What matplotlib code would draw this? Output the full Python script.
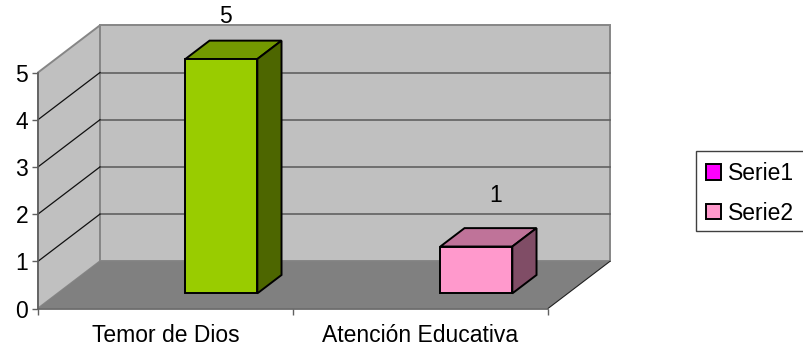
import matplotlib
matplotlib.use("Agg")
import matplotlib.pyplot as plt
from matplotlib.patches import Patch, Rectangle

categories = ["Temor de Dios", "Atención Educativa"]
serie1 = [0, 0]
serie2 = [5, 1]
y_ticks = [0, 1, 2, 3, 4, 5]

W, H = 804, 349
# front plane of the fake 3d box, in pixels
LEFT, RIGHT, BOTTOM, TOP = 38, 548, 308.5, 72.5
DEPTH_X = 62 / 255  # depth in category units
DEPTH_Y = 1.0       # depth in value units

plt.rcParams["font.family"] = ["Liberation Sans", "DejaVu Sans"]
FS = 16.5

fig = plt.figure(figsize=(W / 100, H / 100), dpi=100)
ax = fig.add_axes([LEFT / W, 1 - BOTTOM / H, (RIGHT - LEFT) / W, (BOTTOM - TOP) / H])
ax.set_xlim(0, len(categories))
ax.set_ylim(0, max(y_ticks))
ax.patch.set_visible(False)
for s in ["top", "right"]:
    ax.spines[s].set_visible(False)
for s in ["left", "bottom"]:
    ax.spines[s].set_color("#606060")
    ax.spines[s].set_linewidth(1.2)


def pt(x, y, d):
    return x + d * DEPTH_X, y + d * DEPTH_Y


def face(points, color, edge="none", lw=0, z=1):
    xs = [p[0] for p in points]
    ys = [p[1] for p in points]
    ax.fill(xs, ys, facecolor=color, edgecolor=edge, linewidth=lw, zorder=z,
            clip_on=False, joinstyle="miter")


nx = len(categories)
ytop = max(y_ticks)

# walls and floor
face([pt(0, 0, 0), pt(0, 0, 1), pt(0, ytop, 1), pt(0, ytop, 0)], "#c0c0c0", "#868686", 1.4)
face([pt(0, 0, 1), pt(nx, 0, 1), pt(nx, ytop, 1), pt(0, ytop, 1)], "#c0c0c0", "#868686", 1.4)
face([pt(0, 0, 0), pt(nx, 0, 0), pt(nx, 0, 1), pt(0, 0, 1)], "#808080", "none", 0, z=1.5)
ax.plot(*zip(pt(nx, 0, 0), pt(nx, 0, 1)), color="#202020", lw=0.8, zorder=1.6, clip_on=False)

# gridlines
for v in y_ticks[1:-1]:
    ax.plot(*zip(pt(0, v, 1), pt(nx, v, 1)), color="#606060", lw=1.2, zorder=2, clip_on=False)
    ax.plot(*zip(pt(0, v, 0), pt(0, v, 1)), color="#101010", lw=0.9, zorder=2, clip_on=False)

# bars, both sit in the second slot of their category because serie1 is empty
BAR_W = 72 / 255
D0, D1 = 0.32, 0.71
SCALE = 0.993
front_colors = ["#99cc00", "#ff99cc"]
top_colors = ["#739900", "#bf7399"]
side_colors = ["#4d6600", "#804d66"]
label_off = [(4, 43), (19, 51)]

for i, v in enumerate(serie2):
    x0 = i + 0.5
    x1 = x0 + BAR_W
    h = v * SCALE
    face([pt(x0, 0, D0), pt(x1, 0, D0), pt(x1, h, D0), pt(x0, h, D0)],
         front_colors[i], "black", 1.4, z=4)
    face([pt(x0, h, D0), pt(x1, h, D0), pt(x1, h, D1), pt(x0, h, D1)],
         top_colors[i], "black", 1.4, z=3)
    face([pt(x1, 0, D0), pt(x1, 0, D1), pt(x1, h, D1), pt(x1, h, D0)],
         side_colors[i], "black", 1.4, z=3)
    ax.annotate(str(v), xy=pt((x0 + x1) / 2, h, D0), xycoords="data",
                xytext=(label_off[i][0] * 0.72, label_off[i][1] * 0.72),
                textcoords="offset points", ha="center", va="center",
                fontsize=FS, color="black", zorder=6, annotation_clip=False)

# axes ticks and labels
ax.set_yticks(y_ticks)
ax.set_xticks(range(nx + 1))
ax.set_xticklabels([])
ax.tick_params(axis="both", length=4, width=1, color="#606060", labelsize=FS, labelcolor="black")
ax.tick_params(axis="y", pad=3)
for i, c in enumerate(categories):
    ax.annotate(c, xy=(i + 0.5, 0), xycoords="data", xytext=(0, -19.5),
                textcoords="offset points", ha="center", va="center", fontsize=FS,
                color="black", annotation_clip=False)

# legend, the box runs off the right edge of the picture
fig.add_artist(Rectangle((696 / W, 1 - 231 / H), 120 / W, 80 / H, transform=fig.transFigure,
                         facecolor="white", edgecolor="#404040", linewidth=1.0))
handles = [Patch(facecolor="#ff00ff", edgecolor="black", linewidth=1.4, label="Serie1"),
           Patch(facecolor="#ff99cc", edgecolor="black", linewidth=1.4, label="Serie2")]
leg = fig.legend(handles=handles, loc="upper left", bbox_to_anchor=(706 / W, 1 - 162 / H),
                 fontsize=FS, frameon=False, handlelength=0.66, handleheight=0.66,
                 handletextpad=0.32, borderaxespad=0, borderpad=0, labelspacing=0.72)
leg.set_zorder(5)

fig.savefig("out.png", dpi=100)
